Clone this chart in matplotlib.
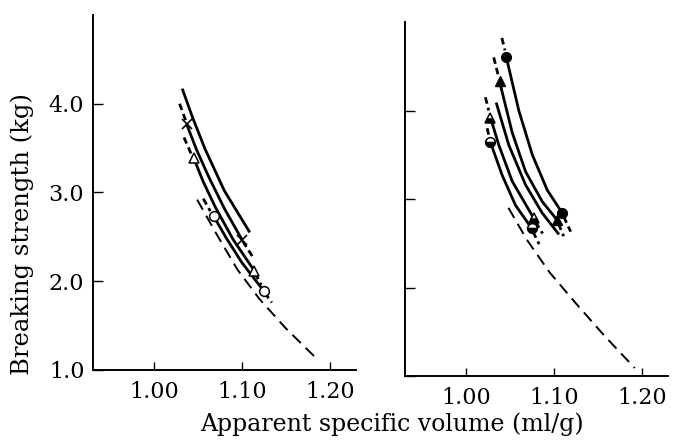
import matplotlib
matplotlib.use("Agg")
import matplotlib.pyplot as plt

# ---- left panel ----
# A: plain solid curve
la_x = [1.032, 1.044, 1.058, 1.080, 1.109]
la_y = [4.17, 3.84, 3.49, 3.02, 2.55]
# B: crosses
lb_x = [1.037, 1.048, 1.062, 1.080, 1.100]
lb_y = [3.77, 3.49, 3.18, 2.82, 2.47]
lb_lead_x = [1.029, 1.036]
lb_lead_y = [4.00, 3.81]
lb_tail_x = [1.101, 1.112]
lb_tail_y = [2.45, 2.28]
# C: open triangles
lc_x = [1.045, 1.056, 1.070, 1.090, 1.114]
lc_y = [3.39, 3.12, 2.83, 2.47, 2.12]
lc_lead_x = [1.034, 1.042]
lc_lead_y = [3.62, 3.44]
lc_tail_x = [1.115, 1.122]
lc_tail_y = [2.09, 1.96]
# D: open circles
ld_x = [1.068, 1.082, 1.100, 1.125]
ld_y = [2.73, 2.49, 2.21, 1.89]
ld_lead_x = [1.056, 1.064]
ld_lead_y = [2.93, 2.79]
ld_tail_x = [1.126, 1.134]
ld_tail_y = [1.87, 1.76]
# E: long dashed reference curve
le_x = [1.049, 1.070, 1.095, 1.120, 1.150, 1.187]
le_y = [2.92, 2.55, 2.13, 1.80, 1.47, 1.11]

# ---- right panel ----
# 1: filled circles
r1_x = [1.0454, 1.0598, 1.0752, 1.0923, 1.1095]
r1_y = [4.61, 4.00, 3.50, 3.10, 2.84]
r1_lead_x = [1.0405, 1.0440]
r1_lead_y = [4.82, 4.68]
r1_tail_x = [1.111, 1.119]
r1_tail_y = [2.80, 2.63]
# 2: filled triangles
r2_x = [1.0378, 1.0523, 1.0675, 1.0866, 1.1037]
r2_y = [4.33, 3.75, 3.31, 2.97, 2.76]
r2_lead_x = [1.0312, 1.0360]
r2_lead_y = [4.60, 4.41]
r2_tail_x = [1.105, 1.111]
r2_tail_y = [2.72, 2.58]
# 3: plain solid
r3_x = [1.034, 1.0484, 1.0675, 1.0866, 1.1056]
r3_y = [4.09, 3.61, 3.16, 2.84, 2.60]
# 4: half-filled triangles
r4_x = [1.0275, 1.037, 1.0523, 1.077]
r4_y = [3.92, 3.61, 3.20, 2.78]
r4_lead_x = [1.0217, 1.0255]
r4_lead_y = [4.15, 4.00]
r4_tail_x = [1.079, 1.087]
r4_tail_y = [2.74, 2.61]
# 5: half-filled circles
r5_x = [1.0275, 1.0408, 1.056, 1.0744]
r5_y = [3.64, 3.27, 2.93, 2.67]
r5_lead_x = [1.0237, 1.0260]
r5_lead_y = [3.80, 3.70]
r5_tail_x = [1.076, 1.083]
r5_tail_y = [2.63, 2.49]
# 6: long dashed reference curve
r6_x = [1.048, 1.069, 1.095, 1.125, 1.157, 1.192]
r6_y = [2.90, 2.54, 2.17, 1.82, 1.46, 1.09]

x_ticks = [1.00, 1.10, 1.20]
x_ticklabels = ["1.00", "1.10", "1.20"]
y_ticks = [1.0, 2.0, 3.0, 4.0]
y_ticklabels = ["1.0", "2.0", "3.0", "4.0"]

FONT = "DejaVu Serif"
plt.rcParams["font.family"] = FONT

W, H = 674, 441
fig = plt.figure(figsize=(W / 100, H / 100), dpi=100)

def box(x0, x1, y0, y1):
    return [x0 / W, 1 - y1 / H, (x1 - x0) / W, (y1 - y0) / H]

ax1 = fig.add_axes(box(92.7, 356, 15, 370))
ax2 = fig.add_axes(box(405, 668, 22, 376))

solid_kw = dict(color="k", lw=2.0, solid_capstyle="butt", solid_joinstyle="round")
ext_kw = dict(color="k", lw=2.0, linestyle=(0, (2.4, 1.5)), dash_capstyle="butt")
ref_kw = dict(color="k", lw=1.4, linestyle=(0, (6.0, 3.5)), dash_capstyle="butt")


def curve(ax, xs, ys, lead=None, tail=None, marker=None, **mkw):
    ax.plot(xs, ys, **solid_kw)
    if lead is not None:
        ax.plot(lead[0], lead[1], **ext_kw)
    if tail is not None:
        ax.plot(tail[0], tail[1], **ext_kw)
    if marker is not None:
        ax.plot([xs[0], xs[-1]], [ys[0], ys[-1]], linestyle="none",
                marker=marker, color="k", zorder=5, **mkw)


open_kw = dict(markersize=7, markerfacecolor="white", markeredgewidth=1.1)
half_kw = dict(markersize=7, fillstyle="bottom", markerfacecoloralt="white",
               markeredgewidth=1.1)
full_kw = dict(markersize=7)

# left panel
curve(ax1, la_x, la_y)
curve(ax1, lb_x, lb_y, (lb_lead_x, lb_lead_y), (lb_tail_x, lb_tail_y),
      marker="x", markersize=7.5, markeredgewidth=1.2)
curve(ax1, lc_x, lc_y, (lc_lead_x, lc_lead_y), (lc_tail_x, lc_tail_y),
      marker="^", **open_kw)
curve(ax1, ld_x, ld_y, (ld_lead_x, ld_lead_y), (ld_tail_x, ld_tail_y),
      marker="o", **open_kw)
ax1.plot(le_x, le_y, **ref_kw)

# right panel
curve(ax2, r1_x, r1_y, (r1_lead_x, r1_lead_y), (r1_tail_x, r1_tail_y),
      marker="o", **full_kw)
curve(ax2, r2_x, r2_y, (r2_lead_x, r2_lead_y), (r2_tail_x, r2_tail_y),
      marker="^", **full_kw)
curve(ax2, r3_x, r3_y)
curve(ax2, r4_x, r4_y, (r4_lead_x, r4_lead_y), (r4_tail_x, r4_tail_y),
      marker="^", **half_kw)
curve(ax2, r5_x, r5_y, (r5_lead_x, r5_lead_y), (r5_tail_x, r5_tail_y),
      marker="o", **half_kw)
ax2.plot(r6_x, r6_y, **ref_kw)

for ax in (ax1, ax2):
    ax.set_xlim(0.93, 1.23)
    ax.set_ylim(1.0, 5.0)
    for s in ("top", "right"):
        ax.spines[s].set_visible(False)
    for s in ("left", "bottom"):
        ax.spines[s].set_linewidth(1.4)
    ax.set_xticks(x_ticks)
    ax.set_xticklabels(x_ticklabels, fontsize=16, family=FONT)
    ax.set_yticks(y_ticks)
    ax.tick_params(axis="x", direction="in", length=6, width=1.0, pad=8)
    ax.tick_params(axis="y", direction="in", length=7, width=1.0, pad=6)

ax1.set_yticklabels(y_ticklabels, fontsize=16, family=FONT)
ax2.set_yticklabels([])

fig.text(22 / W, 1 - 234 / H, "Breaking strength (kg)", rotation=90,
         ha="center", va="center", fontsize=17.5, family=FONT)
fig.text(392 / W, 1 - 424 / H, "Apparent specific volume (ml/g)",
         ha="center", va="center", fontsize=17, family=FONT)

fig.savefig("out.png", dpi=100)
